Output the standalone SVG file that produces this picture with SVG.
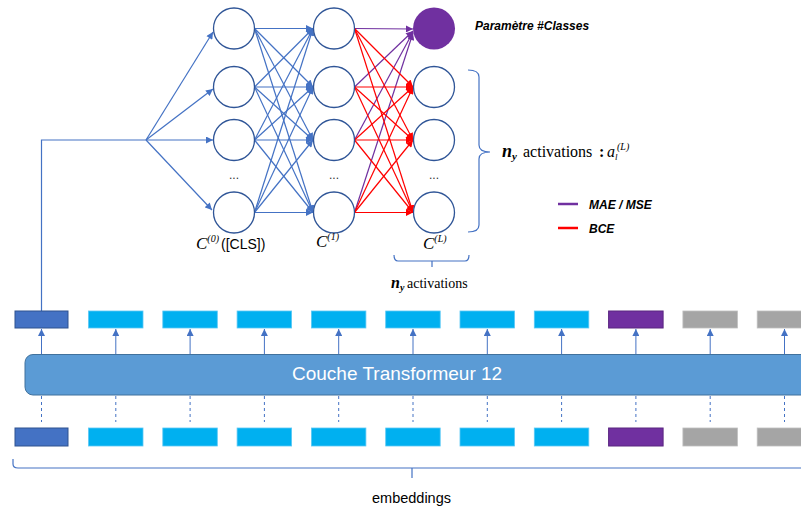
<svg xmlns="http://www.w3.org/2000/svg" width="801" height="512" viewBox="0 0 801 512">
<style>
.neu{fill:#fff;stroke:#2F5597;stroke-width:1.3}
.eb{stroke:#4472C4;stroke-width:1.2;fill:none}
.er{stroke:#FF0000;stroke-width:1.2;fill:none}
.ep{stroke:#7030A0;stroke-width:1.2;fill:none}
.tok{fill:#00B0F0;stroke:#5BC8F5;stroke-width:0.8}
.cls{fill:#4472C4;stroke:#2F528F;stroke-width:1}
.pur{fill:#7030A0;stroke:#5A2680;stroke-width:1}
.gry{fill:#A5A5A5;stroke:#BFBFBF;stroke-width:0.8}
.up{stroke:#4472C4;stroke-width:1;fill:none}
.dn{stroke:#4472C4;stroke-width:1;stroke-dasharray:3,3;fill:none}
.brace{stroke:#4472C4;stroke-width:1.2;fill:none}
.serif{font-family:"Liberation Serif","Times New Roman",serif}
.sans{font-family:"Liberation Sans",Arial,sans-serif}
.dots{font-family:"Liberation Sans",Arial,sans-serif;font-size:12px;fill:#333}
</style>
<defs>
<marker id="ab" viewBox="0 0 10 10" refX="10" refY="5" markerWidth="8" markerHeight="7" markerUnits="userSpaceOnUse" orient="auto"><path d="M0,0 L10,5 L0,10 z" fill="#4472C4"/></marker>
<marker id="ar" viewBox="0 0 10 10" refX="10" refY="5" markerWidth="8" markerHeight="7" markerUnits="userSpaceOnUse" orient="auto"><path d="M0,0 L10,5 L0,10 z" fill="#FF0000"/></marker>
<marker id="ap" viewBox="0 0 10 10" refX="10" refY="5" markerWidth="8" markerHeight="7" markerUnits="userSpaceOnUse" orient="auto"><path d="M0,0 L10,5 L0,10 z" fill="#7030A0"/></marker>
<marker id="as" viewBox="0 0 10 10" refX="10" refY="5" markerWidth="7" markerHeight="7" markerUnits="userSpaceOnUse" orient="auto"><path d="M0,0 L10,5 L0,10 z" fill="#4472C4"/></marker>
</defs>

<g id="connectors">
<polyline class="eb" points="41.5,311 41.5,140 146,140"/>
<line class="eb" x1="146" y1="140" x2="213" y2="32" marker-end="url(#ab)"/>
<line class="eb" x1="146" y1="140" x2="213" y2="89" marker-end="url(#ab)"/>
<line class="eb" x1="146" y1="140" x2="213" y2="140" marker-end="url(#ab)"/>
<line class="eb" x1="146" y1="140" x2="212" y2="210" marker-end="url(#ab)"/>
<g marker-end="url(#ab)">
<line class="eb" x1="254.5" y1="28.5" x2="313" y2="28.5"/>
<line class="eb" x1="254.5" y1="28.5" x2="313" y2="87"/>
<line class="eb" x1="254.5" y1="28.5" x2="313" y2="140"/>
<line class="eb" x1="254.5" y1="28.5" x2="313" y2="212.5"/>
<line class="eb" x1="254.5" y1="87" x2="313" y2="28.5"/>
<line class="eb" x1="254.5" y1="87" x2="313" y2="87"/>
<line class="eb" x1="254.5" y1="87" x2="313" y2="140"/>
<line class="eb" x1="254.5" y1="87" x2="313" y2="212.5"/>
<line class="eb" x1="254.5" y1="140" x2="313" y2="28.5"/>
<line class="eb" x1="254.5" y1="140" x2="313" y2="87"/>
<line class="eb" x1="254.5" y1="140" x2="313" y2="140"/>
<line class="eb" x1="254.5" y1="140" x2="313" y2="212.5"/>
<line class="eb" x1="254.5" y1="212.5" x2="313" y2="28.5"/>
<line class="eb" x1="254.5" y1="212.5" x2="313" y2="87"/>
<line class="eb" x1="254.5" y1="212.5" x2="313" y2="140"/>
<line class="eb" x1="254.5" y1="212.5" x2="313" y2="212.5"/>
</g>
<g marker-end="url(#ap)">
<line class="ep" x1="354.5" y1="28.5" x2="413" y2="29"/>
<line class="ep" x1="354.5" y1="87" x2="413" y2="31"/>
<line class="ep" x1="354.5" y1="140" x2="413" y2="32"/>
<line class="ep" x1="354.5" y1="212.5" x2="413" y2="33"/>
</g>
<g marker-end="url(#ar)">
<line class="er" x1="354.5" y1="28.5" x2="413" y2="87"/>
<line class="er" x1="354.5" y1="28.5" x2="413" y2="140"/>
<line class="er" x1="354.5" y1="28.5" x2="413" y2="212.5"/>
<line class="er" x1="354.5" y1="87" x2="413" y2="87"/>
<line class="er" x1="354.5" y1="87" x2="413" y2="140"/>
<line class="er" x1="354.5" y1="87" x2="413" y2="212.5"/>
<line class="er" x1="354.5" y1="140" x2="413" y2="87"/>
<line class="er" x1="354.5" y1="140" x2="413" y2="140"/>
<line class="er" x1="354.5" y1="140" x2="413" y2="212.5"/>
<line class="er" x1="354.5" y1="212.5" x2="413" y2="87"/>
<line class="er" x1="354.5" y1="212.5" x2="413" y2="140"/>
<line class="er" x1="354.5" y1="212.5" x2="413" y2="212.5"/>
</g>
<g marker-end="url(#as)">
<line class="up" x1="41.5" y1="354" x2="41.5" y2="329"/>
<line class="up" x1="115.8" y1="354" x2="115.8" y2="329"/>
<line class="up" x1="190.1" y1="354" x2="190.1" y2="329"/>
<line class="up" x1="264.4" y1="354" x2="264.4" y2="329"/>
<line class="up" x1="338.7" y1="354" x2="338.7" y2="329"/>
<line class="up" x1="413" y1="354" x2="413" y2="329"/>
<line class="up" x1="487.3" y1="354" x2="487.3" y2="329"/>
<line class="up" x1="561.6" y1="354" x2="561.6" y2="329"/>
<line class="up" x1="635.9" y1="354" x2="635.9" y2="329"/>
<line class="up" x1="710.2" y1="354" x2="710.2" y2="329"/>
<line class="up" x1="784.5" y1="354" x2="784.5" y2="329"/>
</g>
<line class="dn" x1="41.5" y1="396" x2="41.5" y2="422"/>
<line class="dn" x1="115.8" y1="396" x2="115.8" y2="422"/>
<line class="dn" x1="190.1" y1="396" x2="190.1" y2="422"/>
<line class="dn" x1="264.4" y1="396" x2="264.4" y2="422"/>
<line class="dn" x1="338.7" y1="396" x2="338.7" y2="422"/>
<line class="dn" x1="413" y1="396" x2="413" y2="422"/>
<line class="dn" x1="487.3" y1="396" x2="487.3" y2="422"/>
<line class="dn" x1="561.6" y1="396" x2="561.6" y2="422"/>
<line class="dn" x1="635.9" y1="396" x2="635.9" y2="422"/>
<line class="dn" x1="710.2" y1="396" x2="710.2" y2="422"/>
<line class="dn" x1="784.5" y1="396" x2="784.5" y2="422"/>
</g>

<g id="layer0">
<circle class="neu" cx="234" cy="28.5" r="20.5"/>
<circle class="neu" cx="234" cy="87" r="20.5"/>
<circle class="neu" cx="234" cy="140" r="20.5"/>
<text class="dots" x="234" y="179" text-anchor="middle">...</text>
<circle class="neu" cx="234" cy="212.5" r="20.5"/>
<text x="196" y="249"><tspan class="serif" font-style="italic" font-size="17">C</tspan><tspan class="serif" font-style="italic" font-size="10" dy="-7">(0)</tspan><tspan class="sans" font-size="14" dy="7" x="221">([CLS])</tspan></text>
</g>

<g id="layer1">
<circle class="neu" cx="334" cy="28.5" r="20.5"/>
<circle class="neu" cx="334" cy="87" r="20.5"/>
<circle class="neu" cx="334" cy="140" r="20.5"/>
<text class="dots" x="334" y="179" text-anchor="middle">...</text>
<circle class="neu" cx="334" cy="212.5" r="20.5"/>
<text x="316" y="247"><tspan class="serif" font-style="italic" font-size="17">C</tspan><tspan class="serif" font-style="italic" font-size="10" dy="-7">(1)</tspan></text>
</g>

<g id="layerL">
<circle cx="434" cy="28.5" r="21" fill="#7030A0"/>
<circle class="neu" cx="434" cy="87" r="20.5"/>
<circle class="neu" cx="434" cy="140" r="20.5"/>
<text class="dots" x="434" y="179" text-anchor="middle">...</text>
<circle class="neu" cx="434" cy="212.5" r="20.5"/>
<text x="423" y="249"><tspan class="serif" font-style="italic" font-size="17">C</tspan><tspan class="serif" font-style="italic" font-size="10" dy="-7">(L)</tspan></text>
</g>

<g id="param-label">
<text class="sans" x="475" y="30" font-size="12" font-weight="bold" font-style="italic">Paramètre #Classes</text>
</g>

<g id="activations-brace">
<path class="brace" d="M468,70 Q479,70 479,77 V145 Q479,152 490,152 Q479,152 479,159 V225 Q479,232 468,232"/>
<text class="serif" x="502" y="157"><tspan font-weight="bold" font-style="italic" font-size="18">n</tspan><tspan font-weight="bold" font-style="italic" font-size="11" dy="3">y</tspan><tspan font-size="16" dy="-3" x="523">activations</tspan><tspan font-size="16" font-weight="bold" x="599">:</tspan><tspan font-size="16" font-style="italic" x="607">a</tspan><tspan font-size="9" font-style="italic" dy="3" x="615">l</tspan><tspan font-size="10" font-style="italic" dy="-10" x="617">(L)</tspan></text>
</g>

<g id="bottom-activations">
<path class="brace" d="M394,255 Q394,261 398,261 H465 Q469,261 469,255 M432,261 V267"/>
<text class="serif" x="391" y="288"><tspan font-weight="bold" font-style="italic" font-size="16">n</tspan><tspan font-weight="bold" font-style="italic" font-size="10" dy="3">y</tspan><tspan font-size="14" dy="-3" x="407">activations</tspan></text>
</g>

<g id="legend">
<line x1="558" y1="204" x2="578" y2="204" stroke="#7030A0" stroke-width="2.5"/>
<text class="sans" x="589" y="209" font-size="12" font-weight="bold" font-style="italic">MAE / MSE</text>
<line x1="558" y1="228" x2="578" y2="228" stroke="#FF0000" stroke-width="2.5"/>
<text class="sans" x="589" y="233" font-size="12" font-weight="bold" font-style="italic">BCE</text>
</g>

<g id="outputs">
<rect class="cls" x="15" y="311" width="53" height="17"/>
<rect class="tok" x="88.5" y="311" width="54.5" height="17"/>
<rect class="tok" x="162.8" y="311" width="54.5" height="17"/>
<rect class="tok" x="237.1" y="311" width="54.5" height="17"/>
<rect class="tok" x="311.4" y="311" width="54.5" height="17"/>
<rect class="tok" x="385.7" y="311" width="54.5" height="17"/>
<rect class="tok" x="460" y="311" width="54.5" height="17"/>
<rect class="tok" x="534.3" y="311" width="54.5" height="17"/>
<rect class="pur" x="608.6" y="311" width="54.5" height="17"/>
<rect class="gry" x="682.9" y="311" width="54.5" height="17"/>
<rect class="gry" x="757.2" y="311" width="54.5" height="17"/>
</g>

<g id="transformer">
<rect x="25" y="354.5" width="800" height="40.5" rx="8" fill="#5B9BD5" stroke="#41719C" stroke-width="1"/>
<text class="sans" x="292" y="379.5" font-size="19" fill="#fff">Couche Transformeur 12</text>
</g>

<g id="embeddings">
<rect class="cls" x="15" y="428" width="53" height="18"/>
<rect class="tok" x="88.5" y="428" width="54.5" height="18"/>
<rect class="tok" x="162.8" y="428" width="54.5" height="18"/>
<rect class="tok" x="237.1" y="428" width="54.5" height="18"/>
<rect class="tok" x="311.4" y="428" width="54.5" height="18"/>
<rect class="tok" x="385.7" y="428" width="54.5" height="18"/>
<rect class="tok" x="460" y="428" width="54.5" height="18"/>
<rect class="tok" x="534.3" y="428" width="54.5" height="18"/>
<rect class="pur" x="608.6" y="428" width="54.5" height="18"/>
<rect class="gry" x="682.9" y="428" width="54.5" height="18"/>
<rect class="gry" x="757.2" y="428" width="54.5" height="18"/>
<path class="brace" d="M13,459 V464 Q13,468 18,468 H801 M412,468 V478"/>
<text class="sans" x="372" y="503" font-size="14.5" fill="#000">embeddings</text>
</g>
</svg>
